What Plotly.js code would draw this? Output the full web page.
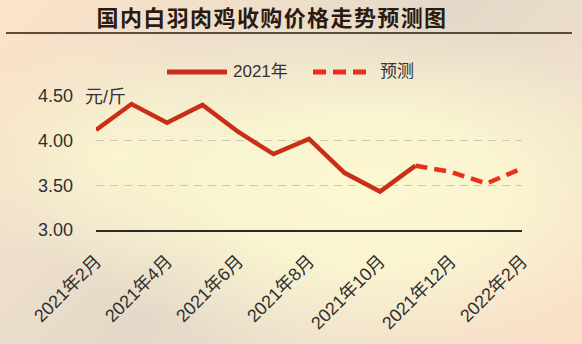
<!DOCTYPE html>
<html>
<head>
<meta charset="utf-8">
<script src="https://cdn.plot.ly/plotly-3.0.1.min.js"></script>
<style>
html,body{margin:0;padding:0;width:582px;height:344px;overflow:hidden;}
#chart{width:582px;height:344px;
background:
 radial-gradient(ellipse 55% 50% at 62% 55%, rgba(252,248,208,1) 0%, rgba(252,248,210,0.85) 45%, rgba(252,248,210,0) 100%),
 radial-gradient(ellipse 30% 35% at 20% 45%, rgba(250,244,208,0.9) 0%, rgba(250,244,208,0) 100%),
 linear-gradient(135deg, #FDE2C8 0%, #EDDFCB 30%, #E4D8C8 50%, #EEDFCC 70%, #FCDFC7 100%);
}
.gtitle{letter-spacing:1.4px;}
</style>
</head>
<body>
<div id="chart"></div>
<script>
const months = ['2021年2月','2021年3月','2021年4月','2021年5月','2021年6月','2021年7月','2021年8月','2021年9月','2021年10月','2021年11月','2021年12月','2022年1月','2022年2月'];
const actualMonths = months.slice(0, 10);
const actualValues = [4.12, 4.41, 4.20, 4.40, 4.10, 3.85, 4.02, 3.64, 3.43, 3.72];
const forecastMonths = months.slice(9);
const forecastValues = [3.72, 3.65, 3.52, 3.69];
const tickMonths = ['2021年2月','2021年4月','2021年6月','2021年8月','2021年10月','2021年12月','2022年2月'];
const yTicks = [3.0, 3.5, 4.0, 4.5];
const seriesNames = ['2021年', '预测'];
const titleText = '国内白羽肉鸡收购价格走势预测图';
const unitText = '元/斤';

const FONT = '"Liberation Sans", "Noto Sans CJK SC", sans-serif';
const solidColor = '#C92F17';
const dashColor = '#E8301D';

const L = 96, R = 522, T = 96, B = 230;
const px = x => (x - L) / (R - L);
const py = y => (B - y) / (B - T);

const traces = [
  {x: actualMonths, y: actualValues, type: 'scatter', mode: 'lines', name: seriesNames[0],
   line: {color: solidColor, width: 4.5}, cliponaxis: false, hoverinfo: 'skip'},
  {x: forecastMonths, y: forecastValues, type: 'scatter', mode: 'lines', name: seriesNames[1],
   line: {color: dashColor, width: 4.5, dash: '12px,7px'}, cliponaxis: false, hoverinfo: 'skip'}
];

const layout = {
  width: 582, height: 344,
  margin: {l: L, r: 582 - R, t: T, b: 344 - B},
  paper_bgcolor: 'rgba(0,0,0,0)', plot_bgcolor: 'rgba(0,0,0,0)',
  showlegend: false,
  font: {family: FONT, color: '#333333', size: 16},
  title: {text: titleText, font: {family: '"Noto Sans CJK SC", sans-serif', size: 22, color: '#2a1a10', weight: 'bold'},
          xref: 'container', yref: 'container', x: 272 / 582, y: 1 - 18 / 344, xanchor: 'center', yanchor: 'middle'},
  xaxis: {type: 'category', categoryorder: 'array', categoryarray: months, range: [0, 12],
          tickmode: 'array', tickvals: tickMonths, ticktext: tickMonths, tickangle: -45,
          showgrid: false, zeroline: false, showline: true, linecolor: '#2b2b1f', linewidth: 1.5,
          ticks: '', ticklabelstandoff: 12, tickfont: {family: FONT, size: 18, color: '#2f2f2f'}, fixedrange: true},
  yaxis: {range: [3, 4.5], tickmode: 'array', tickvals: yTicks, tickformat: '.2f',
          showgrid: true, gridcolor: '#cfc8b6', gridwidth: 1.5, griddash: '8px,6px',
          zeroline: false, showline: false, ticks: '', ticklabelstandoff: 22,
          tickfont: {family: FONT, size: 18, color: '#2f2f2f'}, fixedrange: true},
  shapes: [
    {type: 'line', xref: 'paper', yref: 'paper', x0: px(6), x1: px(572), y0: py(33), y1: py(33),
     line: {color: '#2a1a0a', width: 1.5}},
    {type: 'line', xref: 'paper', yref: 'paper', x0: px(167), x1: px(227), y0: py(72), y1: py(72),
     line: {color: solidColor, width: 5}},
    {type: 'line', xref: 'paper', yref: 'paper', x0: px(313), x1: px(366), y0: py(72), y1: py(72),
     line: {color: dashColor, width: 5, dash: '13px,7px'}}
  ],
  annotations: [
    {text: seriesNames[0], xref: 'paper', yref: 'paper', x: px(231), y: py(72), xanchor: 'left', yanchor: 'middle',
     showarrow: false, font: {family: FONT, size: 17, color: '#333333'}},
    {text: seriesNames[1], xref: 'paper', yref: 'paper', x: px(378), y: py(72), xanchor: 'left', yanchor: 'middle',
     showarrow: false, font: {family: FONT, size: 17, color: '#333333'}},
    {text: unitText, xref: 'paper', yref: 'paper', x: px(83), y: py(97), xanchor: 'left', yanchor: 'middle',
     showarrow: false, font: {family: FONT, size: 18, color: '#333333'}}
  ]
};

Plotly.newPlot('chart', traces, layout, {displayModeBar: false, staticPlot: true});
</script>
</body>
</html>
